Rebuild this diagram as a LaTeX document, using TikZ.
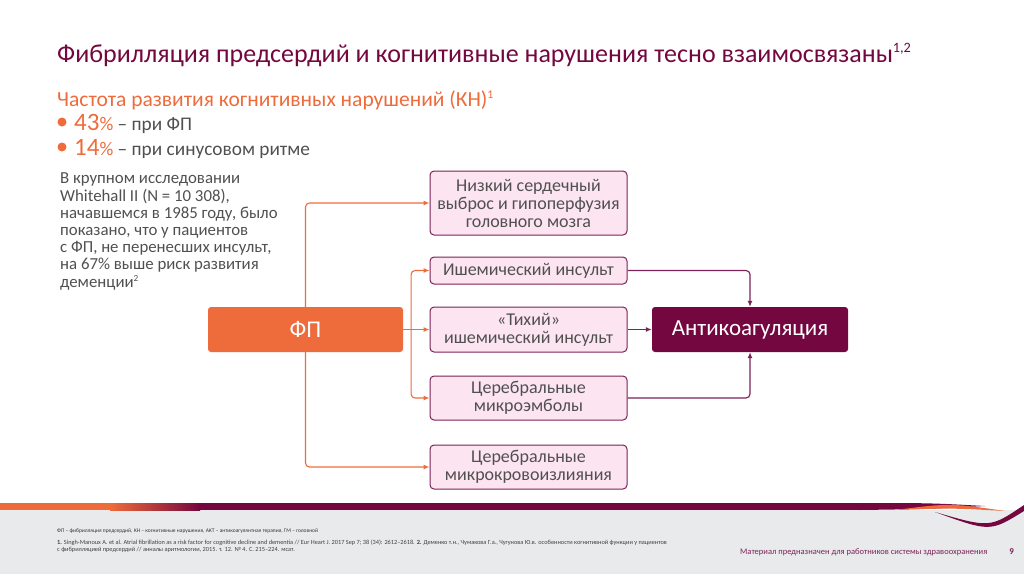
\documentclass[tikz,border=0pt]{standalone}
\usepackage{fontspec}
\setmainfont{Carlito}
\usetikzlibrary{arrows.meta, calc, positioning}
\definecolor{afmagenta}{HTML}{74073F}
\definecolor{afborder}{HTML}{7B2257}
\definecolor{aforange}{HTML}{EE6B3B}
\definecolor{afpink}{HTML}{FCE4F1}
\definecolor{aftext}{HTML}{505050}
\definecolor{affooter}{HTML}{E9EAEC}
\newcommand{\refmark}[1]{\raisebox{0.75ex}{\scalebox{0.55}{#1}}}

\begin{document}
\begin{tikzpicture}[
      x=1pt,
      y=-1pt,
      font=\fontsize{18}{18}\selectfont,
      effect/.style={
        draw=afborder,
        fill=afpink,
        line width=1pt,
        rounded corners=4pt,
        minimum width=197pt,
        align=center,
        text=aftext,
        inner sep=2pt
      },
      source/.style={
        fill=aforange,
        rounded corners=3pt,
        minimum width=195pt,
        minimum height=45pt,
        text=white,
        font=\fontsize{24}{28}\selectfont
      },
      therapy/.style={
        fill=afmagenta,
        rounded corners=3pt,
        minimum width=196pt,
        minimum height=45pt,
        text=white,
        font=\fontsize{23}{26}\selectfont
      },
      link/.style={
        -{Latex[length=6pt,width=5pt]},
        line width=1.1pt,
        draw=aforange,
        rounded corners=4pt
      },
      treat/.style={
        -{Latex[length=6pt,width=5pt]},
        line width=1.1pt,
        draw=afborder,
        rounded corners=4pt
      }
  ]

    \useasboundingbox (0,0) rectangle (1024,574);

    % Заголовок
    \node[anchor=base west, inner sep=0pt, text=afmagenta,
      font=\fontsize{26}{30}\selectfont] (title) at (57,62)
      {Фибрилляция предсердий и когнитивные нарушения тесно взаимосвязаны\refmark{1,2}};

    \node[anchor=base west, inner sep=0pt, text=aforange,
      font=\fontsize{21.5}{24}\selectfont] (rate) at (57,106)
      {Частота развития когнитивных нарушений (КН)\refmark{1}};

    \fill[aforange] (62,122) circle (4.5);
    \fill[aforange] (62,147) circle (4.5);
    \node[anchor=base west, inner sep=0pt, text=aftext,
      font=\fontsize{19.3}{22}\selectfont] (rateaf) at (74,130)
      {\textcolor{aforange}{\fontsize{25}{27}\selectfont 43\fontsize{19.3}{22}\selectfont\%} – при ФП};
    \node[anchor=base west, inner sep=0pt, text=aftext,
      font=\fontsize{19.3}{22}\selectfont] (ratesr) at (74,155)
      {\textcolor{aforange}{\fontsize{25}{27}\selectfont 14\fontsize{19.3}{22}\selectfont\%} – при синусовом ритме};

    \node[anchor=north west, inner sep=0pt, align=left, text=aftext,
      font=\fontsize{16.8}{17.2}\selectfont] (study) at (60,173) {
      В крупном исследовании\\
      Whitehall II (N = 10 308),\\
      начавшемся в 1985 году, было\\
      показано, что у пациентов\\
      с ФП, не перенесших инсульт,\\
      на 67\% выше риск развития\\
      деменции\refmark{2}
    };

    % Схема
    \node[source] (fp) at (305.5,329.5) {ФП};
    \node[therapy] (ak) at (750,329.5) {Антикоагуляция};

    \node[effect, minimum height=64pt] (lowout) at (528.5,203)
      {Низкий сердечный\\выброс и гипоперфузия\\головного мозга};
    \node[effect, minimum height=27pt] (stroke) at (528.5,270.5)
      {Ишемический инсульт};
    \node[effect, minimum height=45pt] (silent) at (528.5,329.5)
      {«Тихий»\\ишемический инсульт};
    \node[effect, minimum height=44pt] (emboli) at (528.5,398)
      {Церебральные\\микроэмболы};
    \node[effect, minimum height=44pt] (bleeds) at (528.5,467)
      {Церебральные\\микрокровоизлияния};

    \coordinate (split) at ($(fp.east)!0.3!(silent.west)$);

    \draw[link] (fp.north) |- (lowout.west);
    \draw[link] (fp.south) |- (bleeds.west);
    \draw[link] (fp.east) -- (silent.west);
    \draw[link] (split) |- (stroke.west);
    \draw[link] (split) |- (emboli.west);

    \draw[treat] (stroke.east) -| (ak.north);
    \draw[treat] (silent.east) -- (ak.west);
    \draw[treat] (emboli.east) -| (ak.south);

    % Нижний колонтитул
    \fill[affooter] (0,510) rectangle (1024,574);
    \fill[aforange] (0,503) rectangle (110,510);
    \shade[left color=aforange, right color=afmagenta] (110,503) rectangle (200,510);
    \fill[afmagenta] (199,503) rectangle (861,510);
    \fill[afmagenta] (860,503) .. controls (930,503) .. (985,506)
      .. controls (930,509) .. (860,510) -- cycle;
    \fill[aforange] (895,510) .. controls (950,503) .. (1005,511)
      .. controls (950,508) .. (895,510) -- cycle;
    \fill[afmagenta] (935,512) .. controls (990,528) .. (1024,505)
      -- (1024,511) .. controls (990,532) .. (935,512) -- cycle;

    \node[anchor=base west, inner sep=0pt, text=black!80,
      font=\fontsize{5.5}{6}\selectfont] (abbr) at (57,532)
      {ФП – фибрилляция предсердий, КН – когнитивные нарушения, АКТ – антикоагулянтная терапия, ГМ – головной};
    \node[anchor=north west, inner sep=0pt, align=left, text=black!75,
      font=\fontsize{6.3}{7.2}\selectfont] (refs) at (57,539.5) {
      \textbf{1.} Singh-Manoux A. et al. Atrial fibrillation as a risk factor for cognitive decline and dementia // Eur Heart J. 2017 Sep 7; 38 (34): 2612–2618. \textbf{2.} Деменко т.н., Чумакова Г.а., Чугунова Ю.в. особенности когнитивной функции у пациентов\\
      с фибрилляцией предсердий // анналы аритмологии, 2015. т. 12. № 4. С. 215–224. мсат.
    };

    \node[anchor=base west, inner sep=0pt, text=afborder,
      font=\fontsize{8.5}{10}\selectfont] (note) at (740,554)
      {Материал предназначен для работников системы здравоохранения};
    \node[anchor=base east, inner sep=0pt, text=afborder,
      font=\bfseries\fontsize{9}{10}\selectfont] (page) at (1014,554) {9};

  \end{tikzpicture}
\end{document}
